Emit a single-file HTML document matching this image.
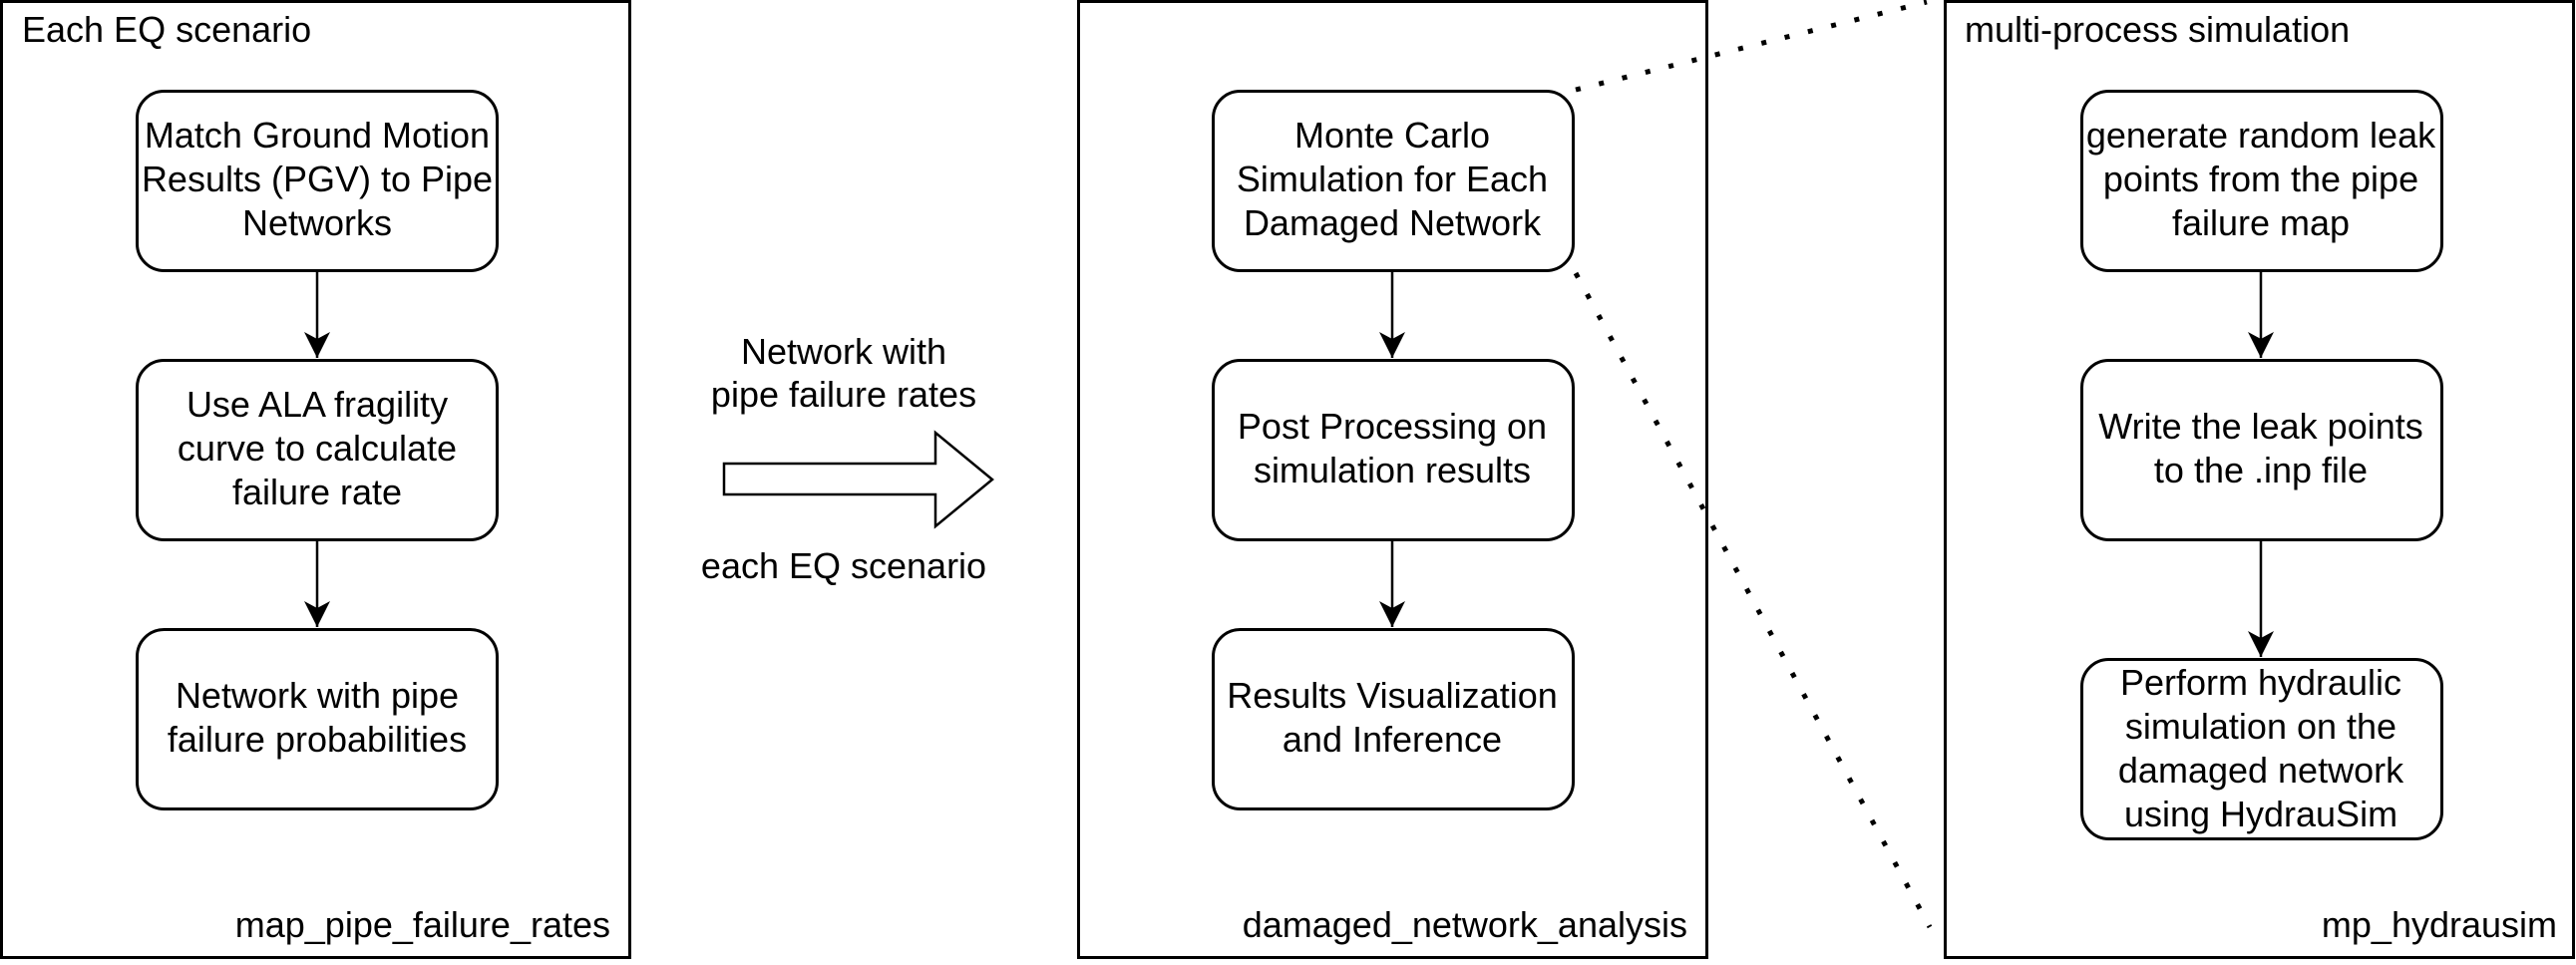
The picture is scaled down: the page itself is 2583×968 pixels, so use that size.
<!DOCTYPE html>
<html><head><meta charset="utf-8"><style>
html,body{margin:0;padding:0;background:#fff;}
svg text{font-family:"Liberation Sans",Helvetica,Arial,sans-serif;font-size:36px;fill:#000;}
</style></head><body>
<svg width="2583" height="963" viewBox="0 0 2583 963" xmlns="http://www.w3.org/2000/svg">
<defs>
<marker id="a" viewBox="0 0 28 28" markerWidth="28" markerHeight="28" refX="26" refY="14" orient="auto" markerUnits="userSpaceOnUse">
<path d="M0,1 L26,14 L0,27 L7,14 Z" fill="#000"/>
</marker>
</defs>
<g fill="none" stroke="#000" stroke-width="3">
<rect x="1.5" y="1.5" width="630" height="959"/>
<rect x="1081.5" y="1.5" width="630" height="959"/>
<rect x="1950.5" y="1.5" width="630" height="959"/>
<rect x="137.5" y="91.5" width="361" height="180" rx="27"/>
<rect x="137.5" y="361.5" width="361" height="180" rx="27"/>
<rect x="137.5" y="631.5" width="361" height="180" rx="27"/>
<rect x="1216.5" y="91.5" width="361" height="180" rx="27"/>
<rect x="1216.5" y="361.5" width="361" height="180" rx="27"/>
<rect x="1216.5" y="631.5" width="361" height="180" rx="27"/>
<rect x="2087.5" y="91.5" width="361" height="180" rx="27"/>
<rect x="2087.5" y="361.5" width="361" height="180" rx="27"/>
<rect x="2087.5" y="661.5" width="361" height="180" rx="27"/>
<path d="M726,465 L938,465 L938,434 L995,481 L938,528 L938,496 L726,496 Z" stroke-width="2.5"/>
</g>
<g stroke="#000" stroke-width="2.5" fill="none">
<line x1="318" y1="272" x2="318" y2="359" marker-end="url(#a)"/>
<line x1="318" y1="542" x2="318" y2="629" marker-end="url(#a)"/>
<line x1="1396" y1="272" x2="1396" y2="359" marker-end="url(#a)"/>
<line x1="1396" y1="542" x2="1396" y2="629" marker-end="url(#a)"/>
<line x1="2267" y1="272" x2="2267" y2="359" marker-end="url(#a)"/>
<line x1="2267" y1="542" x2="2267" y2="659" marker-end="url(#a)"/>
</g>
<g stroke="#000" stroke-width="5" stroke-dasharray="5 19" fill="none">
<line x1="1580" y1="90" x2="1932" y2="2"/>
<line x1="1580" y1="274" x2="1935" y2="930"/>
</g>
<text x="22" y="42">Each EQ scenario</text>
<text x="612" y="940" text-anchor="end">map_pipe_failure_rates</text>
<text x="1692" y="940" text-anchor="end">damaged_network_analysis</text>
<text x="1970" y="42">multi-process simulation</text>
<text x="2564" y="940" text-anchor="end">mp_hydrausim</text>
<g text-anchor="middle">
<text x="318" y="148">Match Ground Motion</text>
<text x="318" y="192">Results (PGV) to Pipe</text>
<text x="318" y="236">Networks</text>
<text x="318" y="418">Use ALA fragility</text>
<text x="318" y="462">curve to calculate</text>
<text x="318" y="506">failure rate</text>
<text x="318" y="710">Network with pipe</text>
<text x="318" y="754">failure probabilities</text>
<text x="846" y="365">Network with</text>
<text x="846" y="408">pipe failure rates</text>
<text x="846" y="580">each EQ scenario</text>
<text x="1396" y="148">Monte Carlo</text>
<text x="1396" y="192">Simulation for Each</text>
<text x="1396" y="236">Damaged Network</text>
<text x="1396" y="440">Post Processing on</text>
<text x="1396" y="484">simulation results</text>
<text x="1396" y="710">Results Visualization</text>
<text x="1396" y="754">and Inference</text>
<text x="2267" y="148">generate random leak</text>
<text x="2267" y="192">points from the pipe</text>
<text x="2267" y="236">failure map</text>
<text x="2267" y="440">Write the leak points</text>
<text x="2267" y="484">to the .inp file</text>
<text x="2267" y="697">Perform hydraulic</text>
<text x="2267" y="741">simulation on the</text>
<text x="2267" y="785">damaged network</text>
<text x="2267" y="829">using HydrauSim</text>
</g>
</svg>
</body></html>
